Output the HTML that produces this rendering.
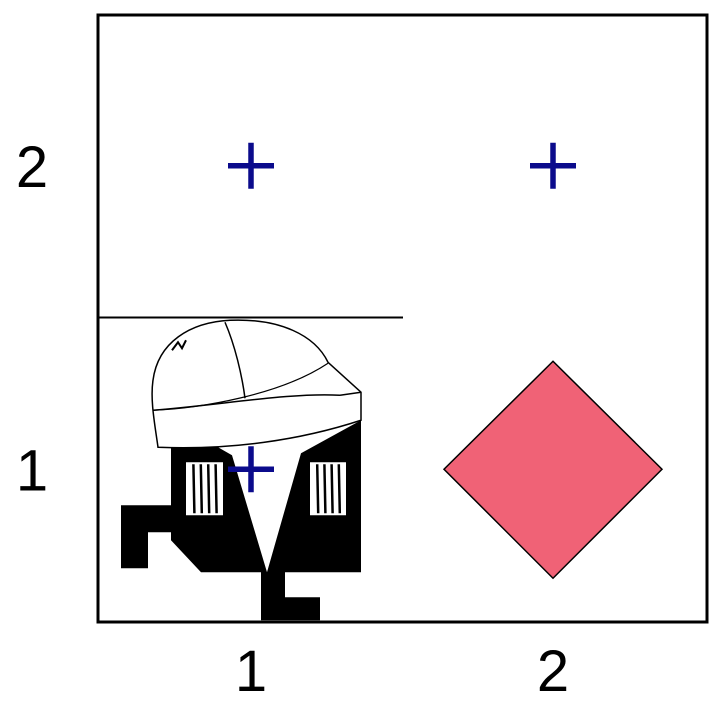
<!DOCTYPE html>
<html><head><meta charset="utf-8"><style>
html,body{margin:0;padding:0;background:#fff;}
svg{display:block;font-family:"Liberation Sans",sans-serif;}
</style></head><body>
<svg id="chart" width="718" height="706" viewBox="0 0 718 706">
<g id="plot"></g>
</svg>
<script>
const xCats = [1, 2, 1, 2];
const yVals = [2, 2, 1, 1];
const xTicks = [1, 2];
const yTicks = [1, 2];
const diamondX = [2];
const diamondY = [1];
const lineY = [1.5];
const lineX = [0.5, 1.5];
const imageX = [1];
const imageY = [1];

const L = 98, R = 707, T = 15, B = 622;
const xMin = 0.5, xMax = 2.5, yMin = 0.5, yMax = 2.5;
function sx(v){ return 251 + (v - 1) * 302; }
function sy(v){ return B - (v - yMin) / (yMax - yMin) * (B - T) - 1; }

const NS = "http://www.w3.org/2000/svg";
const g = document.getElementById('plot');
function mk(tag, attrs, parent){
  const e = document.createElementNS(NS, tag);
  for (const k in attrs) e.setAttribute(k, attrs[k]);
  (parent || g).appendChild(e);
  return e;
}

// line at y=1.5
const hl = mk('line', {x1: L, x2: sx(lineX[1]) + 1, y1: sy(lineY[0]), y2: sy(lineY[0]), stroke: '#000', 'stroke-width': 2});



// image glyph (figure) anchored at data point
const ix = sx(imageX[0]), iy = sy(imageY[0]);
const fig = mk('g', {transform: 'translate(' + (ix - 251) + ',' + (iy - 469) + ')'});


mk('path', {d: 'M171,445 L211,443 L232,455 L267,572 L301,453 L361,420 L361,572 L285,572 L285,597 L320,597 L320,620 L261,620 L261,572 L201,572 L171,540 L171,532 L148,532 L148,568 L121,568 L121,505 L171,505 Z', fill: '#000'}, fig);
[[186, 223], [310, 346]].forEach(function(p){
  mk('rect', {x: p[0], y: 462, width: p[1] - p[0], height: 53, fill: '#fff'}, fig);
  for (let i = 1; i < 5; i++) {
    const xx = p[0] + i * (p[1] - p[0]) / 5;
    mk('line', {x1: xx, x2: xx + 1, y1: 464, y2: 513, stroke: '#000', 'stroke-width': 2.5}, fig);
  }
});
mk('path', {d: 'M158,447 C155,425 150,400 153,380 C158,342 190,322 230,320 C280,318 315,335 328,362 L361,392 L361,420 C300,440 230,450 158,447 Z', fill: '#fff', stroke: '#000', 'stroke-width': 1.5}, fig);
mk('path', {d: 'M153,410 C220,405 290,392 340,395', fill: 'none', stroke: '#000', 'stroke-width': 1.5}, fig);
mk('path', {d: 'M153,410 C200,408 280,395 328,363', fill: 'none', stroke: '#000', 'stroke-width': 1.2}, fig);
mk('path', {d: 'M225,322 C235,345 242,375 245,398', fill: 'none', stroke: '#000', 'stroke-width': 1.5}, fig);
mk('path', {d: 'M340,395 L361,392', fill: 'none', stroke: '#000', 'stroke-width': 1.5}, fig);
mk('path', {d: 'M172,350 L178,342 L182,348 L186,340', fill: 'none', stroke: '#000', 'stroke-width': 2}, fig);

// plus markers
for (let i = 0; i < xCats.length; i++) {
  const cx = sx(xCats[i]), cy = sy(yVals[i]);
  const p = mk('path', {d: 'M' + (cx - 23) + ',' + cy + ' H' + (cx + 23) + ' M' + cx + ',' + (cy - 23) + ' V' + (cy + 23), stroke: '#0b0b8c', 'stroke-width': 5.5, fill: 'none'});
  
  
}

// diamond (drawn over plus markers)
for (let i = 0; i < diamondX.length; i++) {
  const cx = sx(diamondX[i]), cy = sy(diamondY[i]);
  const d = mk('polygon', {points: cx + ',' + (cy - 108) + ' ' + (cx + 109) + ',' + cy + ' ' + cx + ',' + (cy + 109) + ' ' + (cx - 109) + ',' + cy, fill: '#f06276', stroke: '#000', 'stroke-width': 1.5});
  
  
}

// frame
const fr = mk('rect', {x: L, y: T, width: R - L, height: B - T, fill: 'none', stroke: '#000', 'stroke-width': 3});



// tick labels
xTicks.forEach(function(v){
  const t = mk('text', {x: sx(v), y: 691, 'text-anchor': 'middle', 'font-size': 58, fill: '#000'});
  t.textContent = v;
  
  
});
yTicks.forEach(function(v){
  const t = mk('text', {x: 32, y: sy(v) + 21, 'text-anchor': 'middle', 'font-size': 58, fill: '#000'});
  t.textContent = v;
  
  
});
</script>
</body></html>
